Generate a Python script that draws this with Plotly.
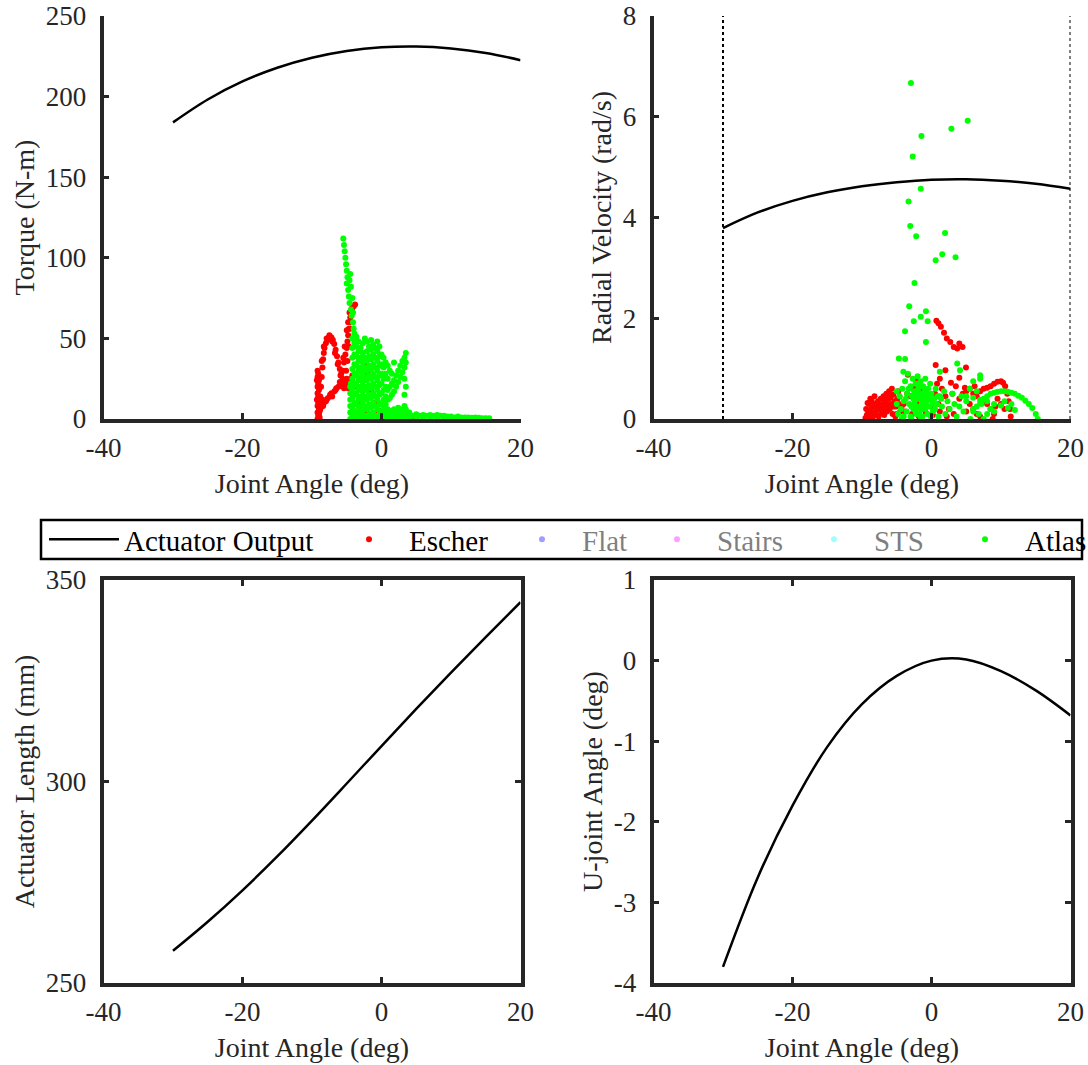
import plotly.graph_objects as go

FONT = "Liberation Serif"
AX = "#262626"

# ---------------- data ----------------
joint_angle = [-30, -25, -20, -15, -10, -5, 0, 5, 10, 15, 20]
torque_output = [184, 198.2, 209.4, 217.9, 224.1, 228.3, 230.6, 231.1, 229.9, 227.1, 222.6]
velocity_output = [3.79, 4.10, 4.33, 4.50, 4.62, 4.70, 4.75, 4.76, 4.73, 4.67, 4.57]
actuator_length = [258, 265.2, 273, 281.4, 290.3, 299.5, 308.8, 318, 327, 335.8, 344.5]
ujoint_angle = [-3.8, -2.69, -1.80, -1.07, -0.54, -0.19, 0.0, 0.015, -0.13, -0.37, -0.68]

joint_limits = [-30, 20]
limit_span = [0, 8]

x_ticks = [-40, -20, 0, 20]
x_tick_text = ["-40", "-20", "0", "20"]
torque_ticks = [0, 50, 100, 150, 200, 250]
velocity_ticks = [0, 2, 4, 6, 8]
length_ticks = [250, 300, 350]
ujoint_ticks = [-4, -3, -2, -1, 0, 1]
ujoint_tick_text = ["-4", "-3", "-2", "-1", "0", "1"]

torque_escher = [
    (-9.2, 0), (-9.1, 2), (-9.2, 4), (-9.0, 6), (-9.2, 8), (-9.1, 10), (-9.3, 12), (-9.1, 14),
    (-9.2, 16), (-9.0, 18), (-9.2, 20), (-9.1, 22), (-9.3, 24), (-9.2, 26), (-9.1, 28), (-9.2, 30),
    (-8.9, 1), (-8.9, 5), (-9.0, 12), (-9.0, 24),
    (-9.0, 3), (-8.9, 8), (-8.8, 14), (-8.7, 20), (-8.6, 26), (-8.5, 32), (-8.4, 37), (-8.3, 41),
    (-8.2, 44), (-8.0, 47), (-7.8, 49), (-7.6, 50.5), (-7.4, 51), (-7.2, 50.5), (-7.0, 49),
    (-6.8, 46.5), (-6.6, 43), (-6.4, 39), (-6.2, 35), (-6.0, 31), (-5.8, 28), (-5.6, 25),
    (-5.4, 23), (-5.2, 22),
    (-8.6, 36), (-8.3, 45), (-7.9, 50), (-7.5, 52), (-7.1, 48), (-6.7, 41), (-6.3, 34), (-5.9, 27),
    (-9.0, 5), (-8.7, 9), (-8.5, 12), (-8.3, 10), (-8.0, 11), (-7.7, 13), (-7.4, 15), (-7.1, 14),
    (-6.8, 17), (-6.5, 19), (-6.2, 20), (-5.9, 21), (-5.6, 22), (-5.3, 21), (-5.0, 20), (-4.8, 19),
    (-4.6, 22), (-4.4, 25), (-4.2, 27), (-4.3, 24), (-8.8, 6), (-8.4, 8), (-7.9, 12), (-7.2, 16),
    (-6.6, 18), (-6.0, 23), (-5.4, 19),
    (-5.6, 30), (-5.4, 35), (-5.2, 40), (-5.0, 44), (-4.9, 48), (-4.8, 52), (-4.7, 56), (-4.6, 60),
    (-4.5, 63), (-4.4, 66), (-4.3, 68), (-4.2, 69), (-4.0, 70), (-3.8, 71), (-4.6, 66), (-4.8, 60),
    (-5.0, 55), (-5.3, 45), (-5.5, 38), (-4.9, 36), (-4.7, 45), (-5.1, 30), (-5.0, 25), (-4.5, 56),
    (-4.4, 60),
    (-3.5, 20), (-3.0, 30), (-2.3, 33), (-2.0, 28), (-1.5, 18), (-1.0, 10), (-0.5, 5), (0.0, 3),
    (0.5, 2), (1.0, 3), (1.5, 2), (2.0, 1), (2.5, 3), (3.0, 4), (3.5, 2), (4.0, 1), (-2.8, 10),
    (-2.2, 5), (-1.8, 3), (-3.2, 2), (-0.1, 5), (3.2, 2.5), (4.5, 0.5), (5.0, 0.3),
]

torque_atlas = [
    (-5.5, 112), (-5.4, 108), (-5.3, 104), (-5.2, 100), (-5.1, 96), (-5.0, 92), (-4.9, 88),
    (-5.0, 84), (-4.8, 80), (-4.7, 76), (-4.5, 90), (-4.6, 72), (-4.4, 68), (-4.3, 64), (-4.2, 75),
    (-4.1, 60), (-4.0, 56), (-3.9, 52), (-4.4, 82), (-4.6, 86), (-4.1, 66), (-3.8, 48),
    (-4.5, 0), (-4.5, 4), (-4.5, 8), (-4.5, 12), (-4.5, 16), (-4.5, 20), (-4.4, 22),
    (-4.2, 2), (-4.2, 7), (-4.2, 13), (-4.2, 19), (-4.2, 25), (-4.2, 31), (-4.2, 38), (-4.2, 44), (-4.2, 50),
    (-3.9, 0), (-3.9, 5), (-3.9, 10), (-3.9, 16), (-3.9, 22), (-3.9, 28), (-3.9, 34), (-3.9, 40),
    (-3.9, 47), (-3.9, 53),
    (-3.6, 3), (-3.6, 9), (-3.6, 15), (-3.6, 21), (-3.6, 27), (-3.6, 33), (-3.6, 39), (-3.6, 45), (-3.6, 51),
    (-3.3, 1), (-3.3, 6), (-3.3, 12), (-3.3, 18), (-3.3, 24), (-3.3, 30), (-3.3, 36), (-3.3, 42), (-3.3, 48),
    (-3.0, 3), (-3.0, 8), (-3.0, 14), (-3.0, 20), (-3.0, 26), (-3.0, 32), (-3.0, 38), (-3.0, 44),
    (-2.7, 0), (-2.7, 5), (-2.7, 11), (-2.7, 17), (-2.7, 23), (-2.7, 29), (-2.7, 35), (-2.7, 41), (-2.7, 47),
    (-2.4, 2), (-2.4, 8), (-2.4, 14), (-2.4, 20), (-2.4, 26), (-2.4, 32), (-2.4, 38), (-2.4, 50),
    (-2.1, 0), (-2.1, 6), (-2.1, 12), (-2.1, 18), (-2.1, 24), (-2.1, 30), (-2.1, 36), (-2.1, 42), (-2.1, 48),
    (-1.8, 3), (-1.8, 9), (-1.8, 15), (-1.8, 21), (-1.8, 27), (-1.8, 33), (-1.8, 39), (-1.8, 45),
    (-1.5, 1), (-1.5, 7), (-1.5, 13), (-1.5, 19), (-1.5, 25), (-1.5, 31), (-1.5, 37), (-1.5, 43), (-1.5, 49),
    (-1.2, 4), (-1.2, 10), (-1.2, 16), (-1.2, 22), (-1.2, 28), (-1.2, 34), (-1.2, 40), (-1.2, 46),
    (-0.9, 2), (-0.9, 8), (-0.9, 14), (-0.9, 20), (-0.9, 26), (-0.9, 32), (-0.9, 38), (-0.9, 44),
    (-0.6, 0), (-0.6, 6), (-0.6, 12), (-0.6, 18), (-0.6, 24), (-0.6, 30), (-0.6, 36), (-0.6, 42), (-0.6, 48),
    (-0.3, 3), (-0.3, 9), (-0.3, 15), (-0.3, 21), (-0.3, 27), (-0.3, 33), (-0.3, 39), (-0.3, 45),
    (0.0, 1), (0.0, 5), (0.0, 10), (0.0, 16), (0.0, 22), (0.0, 28), (0.0, 34), (0.0, 40),
    (0.3, 2), (0.3, 7), (0.3, 12), (0.3, 18), (0.3, 25), (0.3, 32), (0.3, 38),
    (0.6, 0), (0.6, 4), (0.6, 9), (0.6, 14), (0.6, 20), (0.6, 28), (0.6, 35),
    (0.9, 2), (0.9, 6), (0.9, 12), (0.9, 18), (0.9, 25), (0.9, 33),
    (1.2, 1), (1.2, 5), (1.2, 13), (1.2, 20), (1.2, 30),
    (1.5, 0), (1.5, 4), (1.5, 15), (1.5, 22), (1.5, 28),
    (1.8, 2), (1.8, 6), (1.8, 17), (1.8, 24), (1.8, 35),
    (2.1, 1), (2.1, 5), (2.1, 20), (2.1, 27),
    (2.4, 3), (2.4, 7), (2.4, 23), (2.4, 30),
    (2.7, 1), (2.7, 6), (2.7, 26), (2.7, 33),
    (3.0, 2), (3.0, 5), (3.0, 29), (3.0, 36),
    (3.3, 0), (3.3, 4), (3.3, 8), (3.3, 32), (3.3, 38), (3.3, 25), (3.3, 15),
    (3.5, 1), (3.5, 6), (3.5, 35), (3.5, 41), (3.5, 20),
    (4.0, 1), (4.5, 2), (5.0, 1.5), (5.5, 2), (6.0, 2.5), (6.5, 2), (7.0, 2.5), (7.5, 2), (8.0, 2.5),
    (8.5, 2), (9.0, 2), (9.5, 1.5), (10.0, 1.5), (10.5, 1), (11.0, 1.5), (11.5, 1), (12.0, 1),
    (12.5, 1), (13.0, 0.8), (13.5, 1), (14.0, 0.8), (14.5, 0.5), (15.0, 0.5), (15.5, 0.5),
    (4.0, 4), (5.0, 3), (6.0, 1), (7.0, 1), (8.0, 1), (9.0, 0.5), (10.0, 0.5), (11.0, 0.5),
    (12.0, 0.3), (13.0, 0.3), (14.0, 0.3), (15.0, 0.2),
]

velocity_escher = [
    (-9.5, 0.02), (-9.3, 0.08), (-9.1, 0.15), (-8.9, 0.05), (-8.7, 0.2), (-8.5, 0.12), (-8.3, 0.25),
    (-8.1, 0.3), (-7.9, 0.18), (-7.7, 0.35), (-7.5, 0.28), (-7.3, 0.4), (-7.1, 0.22), (-6.9, 0.45),
    (-6.7, 0.35), (-6.5, 0.5), (-6.3, 0.3), (-6.1, 0.55), (-5.9, 0.42), (-5.7, 0.6), (-5.5, 0.48),
    (-5.3, 0.35), (-5.1, 0.25), (-4.9, 0.4), (-4.7, 0.3), (-4.5, 0.15), (-9.0, 0.3), (-8.6, 0.35),
    (-8.0, 0.1), (-7.6, 0.05), (-7.2, 0.12), (-6.8, 0.08), (-6.4, 0.15), (-6.0, 0.2), (-5.6, 0.1),
    (-5.2, 0.05), (-8.8, 0.4), (-8.2, 0.45), (-7.0, 0.3), (-6.2, 0.4), (-5.8, 0.3),
    (-9.4, 0.2), (-9.2, 0.32), (-8.4, 0.05), (-7.8, 0.25), (-7.4, 0.2), (-6.6, 0.25), (-6.0, 0.45),
    (-5.4, 0.25), (-4.8, 0.55), (-4.6, 0.45), (-5.0, 0.1), (-4.3, 0.25), (-6.9, 0.15),
    (-4.0, 0.3), (-3.5, 0.5), (-3.0, 0.45), (-2.5, 0.6), (-2.0, 0.3), (-1.5, 0.55), (-1.0, 0.2),
    (-0.5, 0.4), (0.0, 0.25), (0.5, 0.5), (1.0, 0.3), (1.5, 0.6), (2.0, 0.45), (2.5, 0.2), (3.0, 0.5),
    (3.5, 0.65), (4.0, 0.4), (-3.8, 0.15), (-2.8, 0.1), (-1.8, 0.05), (-0.8, 0.12), (0.2, 0.08),
    (1.2, 0.15), (2.2, 0.05), (3.2, 0.1), (-2.2, 0.75), (0.8, 0.7), (2.8, 0.72), (-3.4, 0.88), (1.2, 0.8),
    (0.7, 1.95), (1.0, 1.9), (1.35, 1.83), (1.8, 1.71), (2.2, 1.6), (2.7, 1.53), (3.2, 1.43),
    (3.7, 1.40), (4.0, 1.50), (4.46, 1.43), (0.6, 1.07), (4.96, 1.02), (2.0, 0.97), (4.0, 0.82),
    (4.5, 0.5), (5.0, 0.55), (5.5, 0.6), (6.0, 0.5), (6.5, 0.45), (7.0, 0.55), (7.5, 0.6), (8.0, 0.62),
    (8.5, 0.65), (9.0, 0.7), (9.5, 0.74), (10.0, 0.75), (10.3, 0.72), (10.6, 0.65), (10.9, 0.5),
    (11.1, 0.35), (11.3, 0.2), (11.4, 0.05), (8.0, 0.3), (8.5, 0.2), (9.0, 0.1), (8.8, 0.0),
    (9.2, 0.25), (5.5, 0.3), (6.0, 0.2), (6.5, 0.1), (7.0, 0.05), (7.5, 0.35), (9.5, 0.4),
    (10.0, 0.3), (10.5, 0.2), (5.0, 0.15), (4.8, 0.62), (6.2, 0.65),
]

velocity_atlas = [
    (-2.96, 6.67), (5.21, 5.92), (2.86, 5.76), (-1.45, 5.62), (-2.71, 5.21), (-1.55, 4.57),
    (-3.31, 4.32), (-3.06, 3.83), (-2.2, 3.63), (1.95, 3.69), (1.55, 3.27), (0.6, 3.15),
    (3.46, 3.21), (-2.45, 2.70), (-3.21, 2.24), (-0.8, 2.14), (-1.55, 2.03), (-2.55, 1.94),
    (-0.55, 1.94), (-3.81, 1.74), (-0.8, 1.53),
    (-4.7, 1.2), (-3.8, 1.19), (-4.05, 0.94), (3.7, 1.1), (4.1, 0.97), (1.2, 0.94), (7.0, 0.87),
    (-5.0, 0.3), (-5.0, 0.55), (-4.8, 0.1), (-4.6, 0.45), (-4.4, 0.2), (-4.2, 0.6), (-4.0, 0.05),
    (-4.0, 0.35), (-3.8, 0.75), (-3.6, 0.15), (-3.5, 0.5), (-3.4, 0.9), (-3.2, 0.3), (-3.0, 0.65),
    (-3.0, 0.05), (-2.8, 0.45), (-2.7, 0.8), (-2.6, 0.2), (-2.5, 0.55), (-2.4, 0.35), (-2.3, 0.7),
    (-2.2, 0.1), (-2.1, 0.5), (-2.0, 0.85), (-2.0, 0.25), (-1.9, 0.6), (-1.8, 0.4), (-1.7, 0.15),
    (-1.6, 0.75), (-1.5, 0.5), (-1.4, 0.3), (-1.3, 0.05), (-1.2, 0.65), (-1.1, 0.45), (-1.0, 0.2),
    (-0.9, 0.8), (-0.8, 0.55), (-0.7, 0.35), (-0.6, 0.1), (-0.5, 0.6), (-0.4, 0.4), (-0.3, 0.25),
    (-0.2, 0.7), (0.0, 0.5), (0.2, 0.15), (0.4, 0.4), (0.6, 0.6), (0.8, 0.3), (1.0, 0.05),
    (1.2, 0.45), (1.5, 0.25), (1.8, 0.55), (2.0, 0.1), (2.3, 0.35), (2.6, 0.2), (3.0, 0.5),
    (3.3, 0.3), (3.6, 0.05), (4.0, 0.25), (4.3, 0.45), (4.6, 0.15), (5.0, 0.35), (5.5, 0.6),
    (6.0, 0.75), (6.5, 0.55), (7.0, 0.8), (7.2, 0.3), (6.8, 0.1), (6.0, 0.2),
    (-2.9, 0.0), (-2.5, 0.3), (-2.2, 0.45), (-1.9, 0.2), (-1.6, 0.05), (-1.3, 0.35), (-1.0, 0.55),
    (-3.7, 0.4), (-4.3, 0.0), (-0.1, 0.05), (0.3, 0.3),
    (-3.3, 0.6), (-2.9, 0.25), (-2.6, 0.4), (-2.3, 0.15), (-1.8, 0.65), (-1.5, 0.2), (-1.2, 0.4),
    (-0.9, 0.3), (-0.6, 0.5), (-0.3, 0.45), (0.1, 0.35), (0.5, 0.2), (0.9, 0.45), (1.4, 0.4),
    (5.6, 0.0), (6.0, 0.15), (6.5, 0.25), (7.0, 0.33), (7.5, 0.4), (8.0, 0.45), (8.5, 0.5),
    (9.0, 0.52), (9.5, 0.54), (10.0, 0.55), (10.5, 0.55), (11.0, 0.54), (11.5, 0.52), (12.0, 0.5),
    (12.5, 0.46), (13.0, 0.42), (13.5, 0.36), (14.0, 0.3), (14.5, 0.22), (15.0, 0.1), (15.3, 0.0),
    (5.0, 0.45), (6.0, 0.42), (7.0, 0.38), (8.0, 0.35), (9.0, 0.3), (10.0, 0.27), (11.0, 0.22),
    (12.0, 0.18), (7.5, 0.0), (8.0, 0.1), (8.5, 0.2), (9.0, 0.15), (10.5, 0.35), (11.5, 0.3),
]


def xs(points):
    return [p[0] for p in points]


def ys(points):
    return [p[1] for p in points]


RED = "#ff0000"
GREEN = "#00ff00"
MS = 6

W, H = 1088, 1065


def px(x):
    return x / W


def py(y):
    return 1 - y / H


fig = go.Figure()

# legend-bearing traces (top-left panel)
fig.add_trace(go.Scatter(x=joint_angle, y=torque_output, mode="lines", name="Actuator Output",
                         line=dict(color="black", width=2.5, shape="spline"),
                         xaxis="x", yaxis="y", legendwidth=200))
fig.add_trace(go.Scatter(x=xs(torque_escher), y=ys(torque_escher), mode="markers", name="Escher",
                         marker=dict(color=RED, size=MS), xaxis="x", yaxis="y", legendwidth=88))
fig.add_trace(go.Scatter(x=[None], y=[None], mode="markers", name="Flat", visible="legendonly",
                         marker=dict(color="#4040ff", size=MS), xaxis="x", yaxis="y", legendwidth=50))
fig.add_trace(go.Scatter(x=[None], y=[None], mode="markers", name="Stairs", visible="legendonly",
                         marker=dict(color="#ff40ff", size=MS), xaxis="x", yaxis="y", legendwidth=72))
fig.add_trace(go.Scatter(x=[None], y=[None], mode="markers", name="STS", visible="legendonly",
                         marker=dict(color="#40ffff", size=MS), xaxis="x", yaxis="y", legendwidth=66))
fig.add_trace(go.Scatter(x=xs(torque_atlas), y=ys(torque_atlas), mode="markers", name="Atlas",
                         marker=dict(color=GREEN, size=MS), xaxis="x", yaxis="y", legendwidth=60))

# top-right panel
for lim in joint_limits:
    fig.add_trace(go.Scatter(x=[lim, lim], y=limit_span, mode="lines", showlegend=False,
                             line=dict(color="black", width=2, dash="dot"), xaxis="x2", yaxis="y2"))
fig.add_trace(go.Scatter(x=joint_angle, y=velocity_output, mode="lines", showlegend=False,
                         line=dict(color="black", width=2.5, shape="spline"), xaxis="x2", yaxis="y2"))
fig.add_trace(go.Scatter(x=xs(velocity_escher), y=ys(velocity_escher), mode="markers", showlegend=False,
                         marker=dict(color=RED, size=MS), xaxis="x2", yaxis="y2"))
fig.add_trace(go.Scatter(x=xs(velocity_atlas), y=ys(velocity_atlas), mode="markers", showlegend=False,
                         marker=dict(color=GREEN, size=MS), xaxis="x2", yaxis="y2"))

# bottom panels
fig.add_trace(go.Scatter(x=joint_angle, y=actuator_length, mode="lines", showlegend=False,
                         line=dict(color="black", width=2.5, shape="spline"), xaxis="x3", yaxis="y3"))
fig.add_trace(go.Scatter(x=joint_angle, y=ujoint_angle, mode="lines", showlegend=False,
                         line=dict(color="black", width=2.5, shape="spline"), xaxis="x4", yaxis="y4"))

tickfont = dict(family=FONT, size=27, color=AX)
titlefont = dict(family=FONT, size=28, color=AX)


def xaxis(domain, anchor, mirror):
    return dict(domain=domain, anchor=anchor, range=[-40, 20], tickmode="array",
                tickvals=x_ticks, ticktext=x_tick_text, showline=True, linewidth=3.5,
                linecolor=AX, mirror=mirror, ticks="inside", ticklen=6, tickwidth=3,
                tickcolor=AX, showgrid=False, zeroline=False, tickfont=tickfont,
                title=dict(text="Joint Angle (deg)", font=titlefont, standoff=12),
                ticklabelstandoff=2, ticklabeloverflow="allow", automargin=False)


def yaxis(domain, anchor, rng, vals, text, title, mirror):
    return dict(domain=domain, anchor=anchor, range=rng, tickmode="array", tickvals=vals,
                ticktext=text, showline=True, linewidth=3.5, linecolor=AX, mirror=mirror,
                ticks="inside", ticklen=6, tickwidth=3, tickcolor=AX, showgrid=False,
                zeroline=False, tickfont=tickfont,
                title=dict(text=title, font=titlefont, standoff=4), ticklabelstandoff=8,
                ticklabeloverflow="allow", automargin=False)


XL = [px(103.5), px(520.5)]
XR = [px(653.5), px(1070.5)]
YT = [py(419), py(16)]
YB = [py(983), py(580)]

fig.update_layout(
    width=W, height=H, autosize=False,
    margin=dict(l=0, r=0, t=0, b=0, autoexpand=False),
    paper_bgcolor="white", plot_bgcolor="white",
    font=dict(family=FONT, color=AX),
    showlegend=True,
    xaxis=xaxis(XL, "y", False),
    yaxis=yaxis(YT, "x", [0, 250], torque_ticks, [str(v) for v in torque_ticks], "Torque (N-m)", False),
    xaxis2=xaxis(XR, "y2", False),
    yaxis2=yaxis(YT, "x2", [0, 8], velocity_ticks, [str(v) for v in velocity_ticks],
                 "Radial Velocity (rad/s)", False),
    xaxis3=xaxis(XL, "y3", "ticks"),
    yaxis3=yaxis(YB, "x3", [250, 350], length_ticks, [str(v) for v in length_ticks],
                 "Actuator Length (mm)", "ticks"),
    xaxis4=xaxis(XR, "y4", "ticks"),
    yaxis4=yaxis(YB, "x4", [-4, 1], ujoint_ticks, ujoint_tick_text, "U-joint Angle (deg)", "ticks"),
    legend=dict(orientation="h", x=px(44), y=py(539.5), xanchor="left", yanchor="middle",
                borderwidth=0, bgcolor="rgba(0,0,0,0)",
                font=dict(family=FONT, size=29, color="black"), itemwidth=70,
                traceorder="normal"),
    shapes=[dict(type="rect", xref="paper", yref="paper", x0=px(41), x1=px(1082),
                 y0=py(559), y1=py(520), line=dict(color="black", width=2.5),
                 fillcolor="rgba(0,0,0,0)", layer="below")],
)

fig.write_html("out.html", config={"displayModeBar": False},
               post_script="document.body.style.margin='0px';document.body.style.overflow='hidden';")
